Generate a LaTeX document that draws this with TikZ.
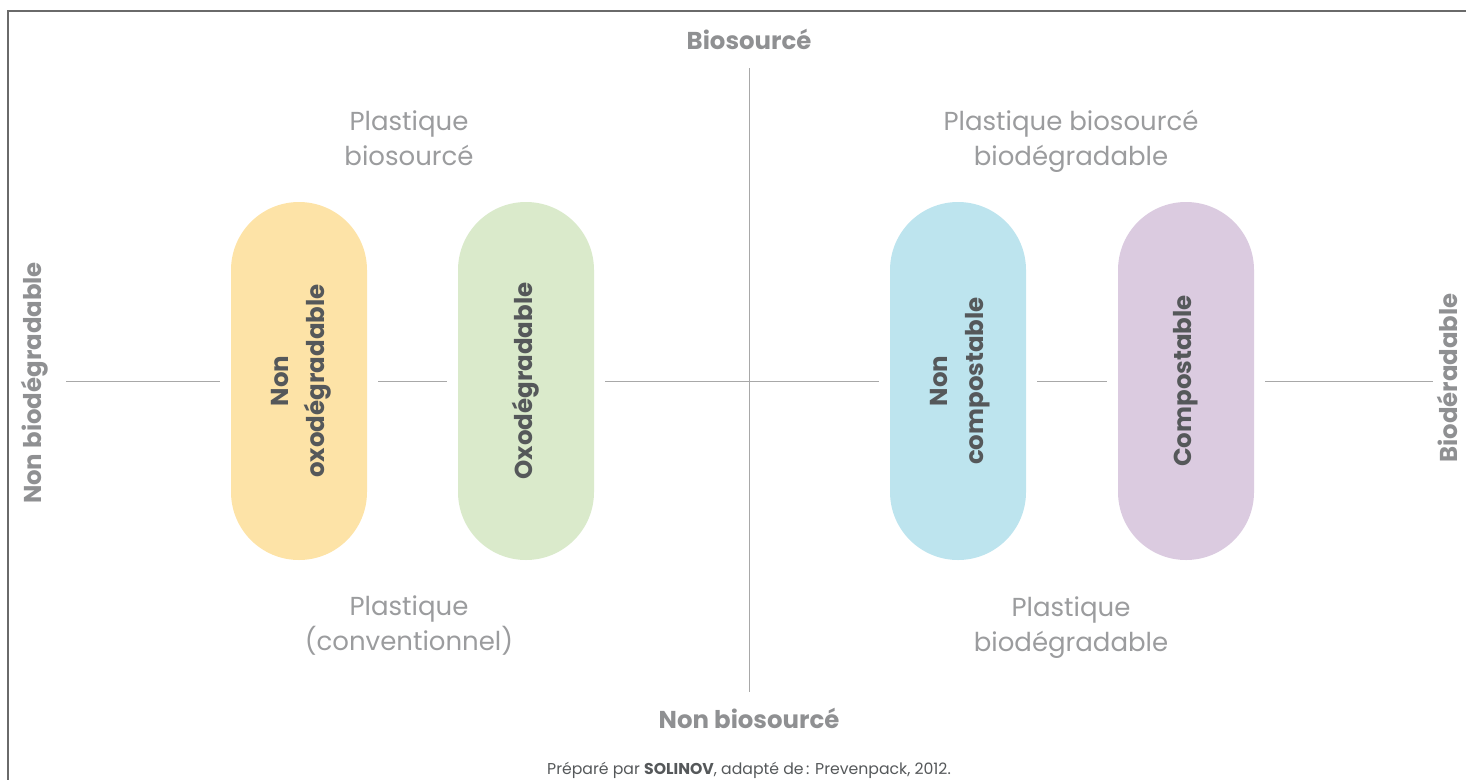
\documentclass[tikz,border=0pt]{standalone}
\usepackage{fontspec}
\setmainfont{Poppins}
\definecolor{pillyellow}{HTML}{FDE3A7}
\definecolor{pillgreen}{HTML}{DAEACB}
\definecolor{pillblue}{HTML}{BDE4EE}
\definecolor{pillmauve}{HTML}{DBCBE0}
\definecolor{pilltext}{HTML}{55585A}
\definecolor{polegray}{HTML}{8F9092}
\definecolor{zonegray}{HTML}{9B9C9E}
\definecolor{axisgray}{HTML}{A8A8A8}
\definecolor{framegray}{HTML}{6A6A6A}
\begin{document}
\begin{tikzpicture}[x=1pt, y=-1pt]
\tikzstyle{pill}=[rectangle, rounded corners=68pt, minimum width=136pt, minimum height=358pt, inner sep=0pt, text=pilltext, font=\bfseries\fontsize{24.5}{36}\selectfont];
\tikzstyle{pole}=[text=polegray, font=\bfseries\fontsize{24.4}{28}\selectfont];
\tikzstyle{zone}=[text=zonegray, align=center, font=\fontsize{26}{35}\selectfont];
\tikzstyle{axis}=[draw=axisgray, line width=0.9pt, shorten <=11pt, shorten >=11pt];
\useasboundingbox (0,0) rectangle (1466,780);
\draw [framegray, line width=1.3pt] (1466,11) -- (8,11) -- (8,780);
% poles
\node [pole] (bio) at (749,39) {Biosourcé};
\node [pole] (nonbio) at (749,718) {Non biosourcé};
\node [pole, rotate=90] (nondeg) at (35,383) {Non biodégradable};
\node [pole, rotate=90, inner sep=1pt] (deg) at (1447,378) {Biodéradable};
% quadrants
\node [zone] (qbio) at (409,138) {Plastique\\biosourcé};
\node [zone] (qbiodeg) at (1071,141) {Plastique biosourcé\\biodégradable};
\node [zone] (qconv) at (409,625.5) {Plastique\\(conventionnel)};
\node [zone] (qdeg) at (1071,627.5) {Plastique\\biodégradable};
% pills
\node [pill, fill=pillyellow] (nonoxo) at (299,381) {\rotatebox{90}{\begin{tabular}{@{}c@{}}Non\\oxodégradable\end{tabular}}};
\node [pill, fill=pillgreen] (oxo) at (526,381) {\rotatebox{90}{Oxodégradable}};
\node [pill, fill=pillblue] (noncomp) at (958,381) {\rotatebox{90}{\begin{tabular}{@{}c@{}}Non\\compostable\end{tabular}}};
\node [pill, fill=pillmauve] (comp) at (1186,381) {\rotatebox{90}{Compostable}};
\coordinate (wend) at (55,381);
\coordinate (eend) at (1444,381);
\coordinate (ntop) at (749,68);
\coordinate (nbot) at (749,692);
\draw [axis, shorten <=0pt, shorten >=0pt] (ntop) -- (nbot);
\path (wend) edge [axis] (nonoxo) % chain
(nonoxo) edge [axis] (oxo)
(oxo) edge [axis] (noncomp)
(noncomp) edge [axis] (comp)
(comp) edge [axis] (eend);
\node [text=pilltext, font=\fontsize{15.7}{18}\selectfont] (src) at (749,770) {Préparé par \textbf{SOLINOV}, adapté de\,: Prevenpack, 2012.};
\end{tikzpicture}
\end{document}
